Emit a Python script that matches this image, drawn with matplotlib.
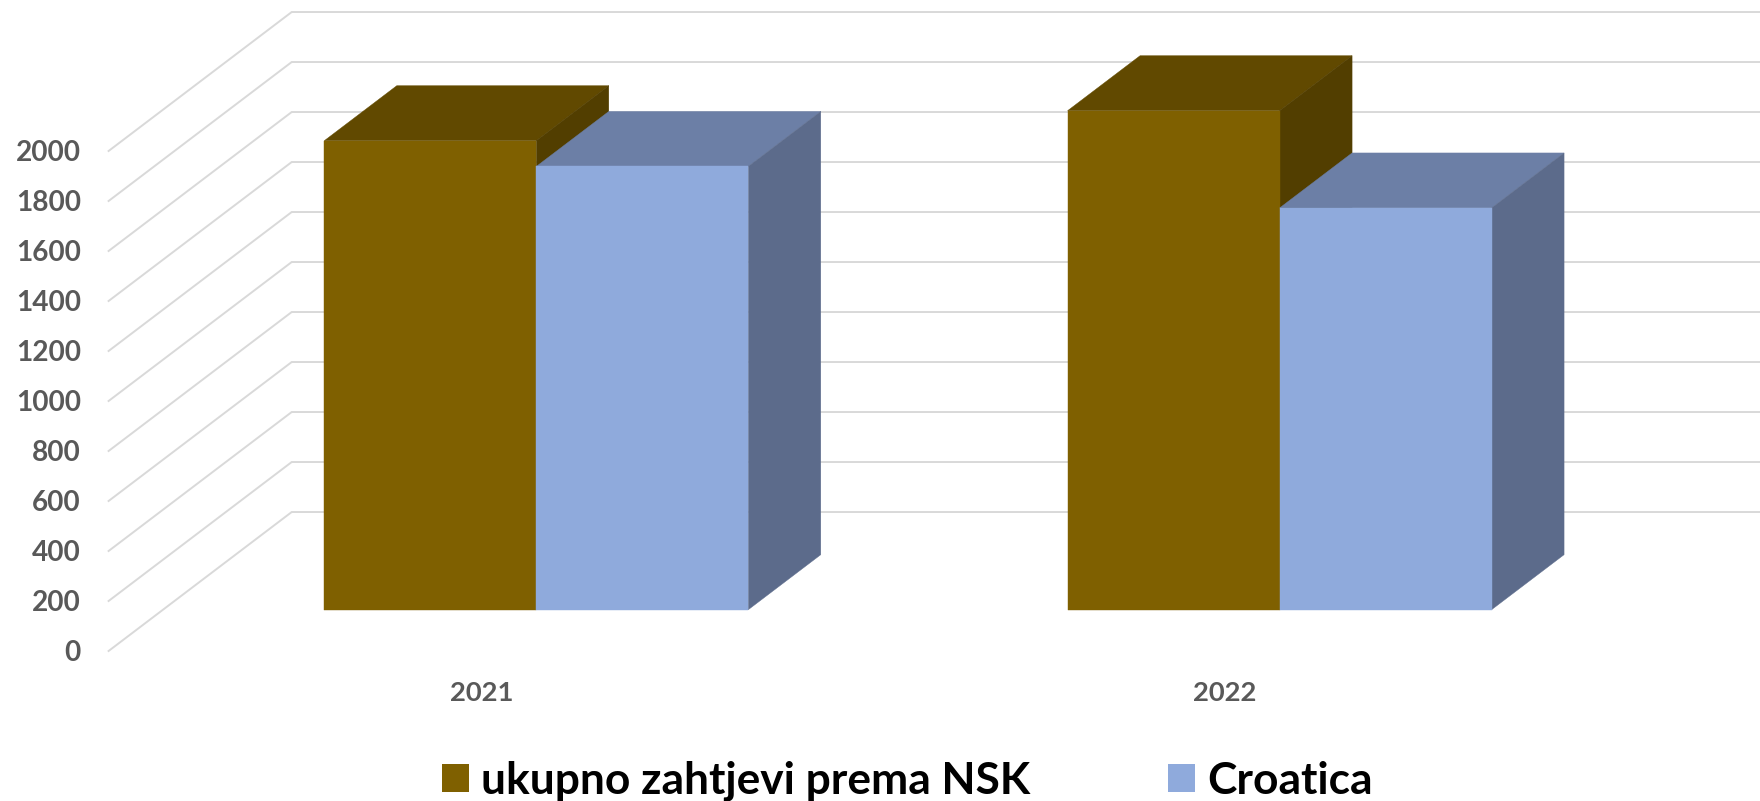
import matplotlib
matplotlib.use("Agg")
import matplotlib.pyplot as plt
from matplotlib.patches import Polygon, Patch

years = ["2021", "2022"]
series_names = ["ukupno zahtjevi prema NSK", "Croatica"]
ukupno = [1876, 1996]
croatica = [1773, 1607]
axis_ticks = [0, 200, 400, 600, 800, 1000, 1200, 1400, 1600, 1800, 2000]

front_colors = ["#7F6000", "#8FAADC"]
top_colors = ["#614900", "#6C7FA6"]
side_colors = ["#523E00", "#5C6B8B"]

plt.rcParams["font.family"] = ["Lato", "DejaVu Sans"]
plt.rcParams["font.weight"] = "bold"

fig = plt.figure(figsize=(17.6, 8.01), dpi=100)
ax = fig.add_axes([0, 0, 1, 1])
ax.set_xlim(-0.7215, 1.6463)
ax.set_ylim(-765.2, 2438.8)
ax.axis("off")

BAR_W = 0.2852
DX, DY = 0.0975, 220
D_FRONT, D_BACK = -0.751, 1.776
FLOOR_LEFT = -0.5022


def proj(x, v, d):
    return (x + d * DX, v + d * DY)


for v in axis_ticks:
    pts = [proj(FLOOR_LEFT, v, D_FRONT), proj(FLOOR_LEFT, v, D_BACK), proj(1.8, v, D_BACK)]
    ax.plot(*zip(*pts), color="#D9D9D9", lw=1.4, solid_joinstyle="miter", zorder=1)
    x, y = proj(FLOOR_LEFT, v, D_FRONT)
    ax.text(x - 0.0375, y - 6, f"{v}", ha="right", va="center", fontsize=20.2,
            color="#595959", fontweight="bold")

z = 2
for i, year in enumerate(years):
    for j, vals in enumerate([ukupno, croatica]):
        x0 = i + (j - 1) * BAR_W
        x1 = x0 + BAR_W
        v = vals[i]
        faces = [
            ([proj(x0, v, 0), proj(x1, v, 0), proj(x1, v, 1), proj(x0, v, 1)], top_colors[j]),
            ([proj(x1, 0, 0), proj(x1, 0, 1), proj(x1, v, 1), proj(x1, v, 0)], side_colors[j]),
            ([proj(x0, 0, 0), proj(x1, 0, 0), proj(x1, v, 0), proj(x0, v, 0)], front_colors[j]),
        ]
        for pts, c in faces:
            ax.add_patch(Polygon(pts, closed=True, facecolor=c, edgecolor=c, lw=0.3, zorder=z))
            z += 1
    x, _ = proj(i, 0, D_FRONT)
    ax.text(x, -334, year, ha="center", va="center", fontsize=19.7,
            color="#595959", fontweight="bold")

handles = [Patch(facecolor=c, edgecolor="none") for c in front_colors]
ax.legend(handles, series_names, ncol=2, frameon=False, fontsize=31.85,
          loc="center", bbox_to_anchor=(907 / 1760, 1 - 781 / 801),
          bbox_transform=fig.transFigure, handlelength=0.61, handleheight=0.61,
          handletextpad=0.27, columnspacing=3.12, borderpad=0, borderaxespad=0,
          labelcolor="black")

fig.savefig("out.png", dpi=100)
